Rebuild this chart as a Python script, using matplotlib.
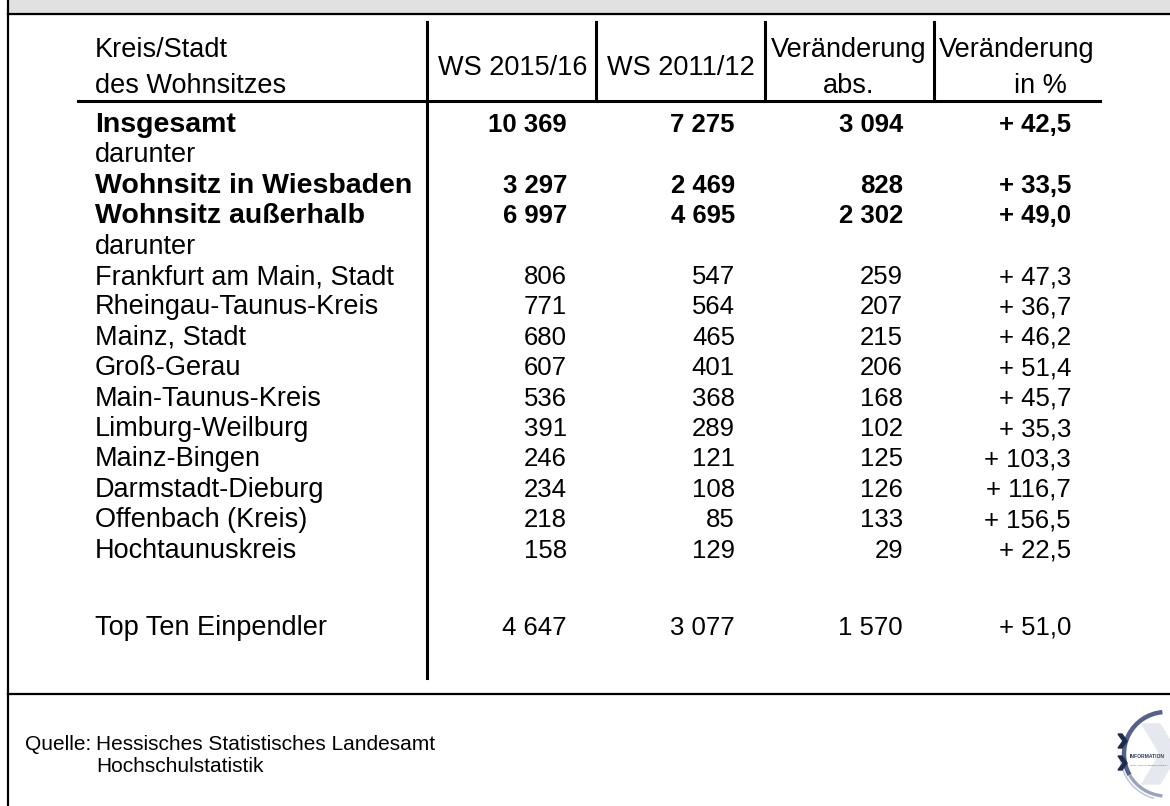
import matplotlib.pyplot as plt
from matplotlib.patches import Rectangle, Arc, Polygon

plt.rcParams['font.family'] = ['Liberation Sans', 'DejaVu Sans']

# Daten aus der Tabelle
labels = ["Insgesamt", "darunter", "Wohnsitz in Wiesbaden", "Wohnsitz außerhalb", "darunter",
          "Frankfurt am Main, Stadt", "Rheingau-Taunus-Kreis", "Mainz, Stadt", "Groß-Gerau",
          "Main-Taunus-Kreis", "Limburg-Weilburg", "Mainz-Bingen", "Darmstadt-Dieburg",
          "Offenbach (Kreis)", "Hochtaunuskreis", "", "Top Ten Einpendler"]
ws_2015 = [10369, None, 3297, 6997, None, 806, 771, 680, 607, 536, 391, 246, 234, 218, 158, None, 4647]
ws_2011 = [7275, None, 2469, 4695, None, 547, 564, 465, 401, 368, 289, 121, 108, 85, 129, None, 3077]
diff_abs = [3094, None, 828, 2302, None, 259, 207, 215, 206, 168, 102, 125, 126, 133, 29, None, 1570]
diff_pct = [42.5, None, 33.5, 49.0, None, 47.3, 36.7, 46.2, 51.4, 45.7, 35.3, 103.3, 116.7, 156.5, 22.5, None, 51.0]
bold_rows = ["Insgesamt", "Wohnsitz in Wiesbaden", "Wohnsitz außerhalb"]


def fmt(n):
    return f"{n:,}".replace(",", " ")


fig = plt.figure(figsize=(11.7, 8.06), dpi=100)
ax = fig.add_axes([0, 0, 1, 1])
ax.set_xlim(0, 1170)
ax.set_ylim(806, 0)
ax.axis("off")

# Rahmen und Kopfband
ax.add_patch(Rectangle((8, 0), 1170, 14, color="#e1e1e1", zorder=0))
ax.plot([8, 1170], [14, 14], color="black", lw=1.6)
ax.plot([8, 8], [0, 806], color="black", lw=1.6)
ax.plot([8, 1170], [694, 694], color="black", lw=1.6)

# Tabellenkopf
fs_txt = 19.5
fs_num = 18.5
ax.text(95, 57, "Kreis/Stadt", fontsize=fs_txt, va="baseline")
ax.text(95, 93, "des Wohnsitzes", fontsize=fs_txt, va="baseline")
ax.text(513, 75, "WS 2015/16", fontsize=fs_txt, va="baseline", ha="center")
ax.text(681, 75, "WS 2011/12", fontsize=fs_txt, va="baseline", ha="center")
ax.text(849, 57, "Veränderung", fontsize=fs_txt, va="baseline", ha="center")
ax.text(849, 93, "abs.", fontsize=fs_txt, va="baseline", ha="center")
ax.text(1017, 57, "Veränderung", fontsize=fs_txt, va="baseline", ha="center")
ax.text(1040, 93, "in %", fontsize=fs_txt, va="baseline", ha="center")

ax.plot([78, 1100], [101, 101], color="black", lw=2.2)
ax.plot([427, 427], [22, 678], color="black", lw=2.2)
for xv in [596, 765, 934]:
    ax.plot([xv, xv], [22, 101], color="black", lw=2.2)

# Tabellenzeilen
col_right = [567, 735, 903, 1071]
for i, lab in enumerate(labels):
    y = 125 + i * 30.4
    if lab == "Top Ten Einpendler":
        y = 628
    if lab in bold_rows:
        ax.text(95, y, lab, fontsize=20.5, va="center", fontweight="bold")
    else:
        ax.text(95, y, lab, fontsize=fs_txt, va="center")
    if ws_2015[i] is None:
        continue
    weight = "bold" if lab in bold_rows else "normal"
    vals = [fmt(ws_2015[i]), fmt(ws_2011[i]), fmt(diff_abs[i]),
            "+ " + f"{diff_pct[i]:.1f}".replace(".", ",")]
    for xr, v in zip(col_right, vals):
        ax.text(xr, y, v, fontsize=fs_num, va="center", ha="right", fontweight=weight)

# Quelle
ax.text(25, 744, "Quelle:", fontsize=15, va="center")
ax.text(96, 744, "Hessisches Statistisches Landesamt", fontsize=15, va="center")
ax.text(96, 767, "Hochschulstatistik", fontsize=15, va="center")

# Logo
ax.add_patch(Polygon([[1142, 724], [1160, 724], [1178, 754], [1160, 784], [1142, 784], [1160, 754]],
                     closed=True, color="#e6e8ef", zorder=1))
ax.add_patch(Arc((1166, 754), 84, 84, theta1=150, theta2=265, color="#56618a", lw=3.2, zorder=2))
ax.add_patch(Arc((1166, 754), 84, 84, theta1=95, theta2=150, color="#9aa2bf", lw=2.4, zorder=2))
ax.add_patch(Arc((1166, 754), 92, 92, theta1=105, theta2=175, color="#c3c8d8", lw=1.2, zorder=2))
for yc in [741, 763]:
    ax.add_patch(Polygon([[1118, yc - 7], [1122, yc - 7], [1127, yc], [1122, yc + 7], [1118, yc + 7], [1123, yc]],
                         closed=True, color="#1d2b4d", zorder=3))
ax.text(1130, 757, "INFORMATION", fontsize=3.6, color="#2e3956", fontweight="bold", va="center", zorder=4)
ax.text(1129, 765, "• daten • analyse • beratung • statistik •", fontsize=1.6, color="#b0303f",
        va="center", zorder=4)

fig.savefig("out.png", dpi=100)
